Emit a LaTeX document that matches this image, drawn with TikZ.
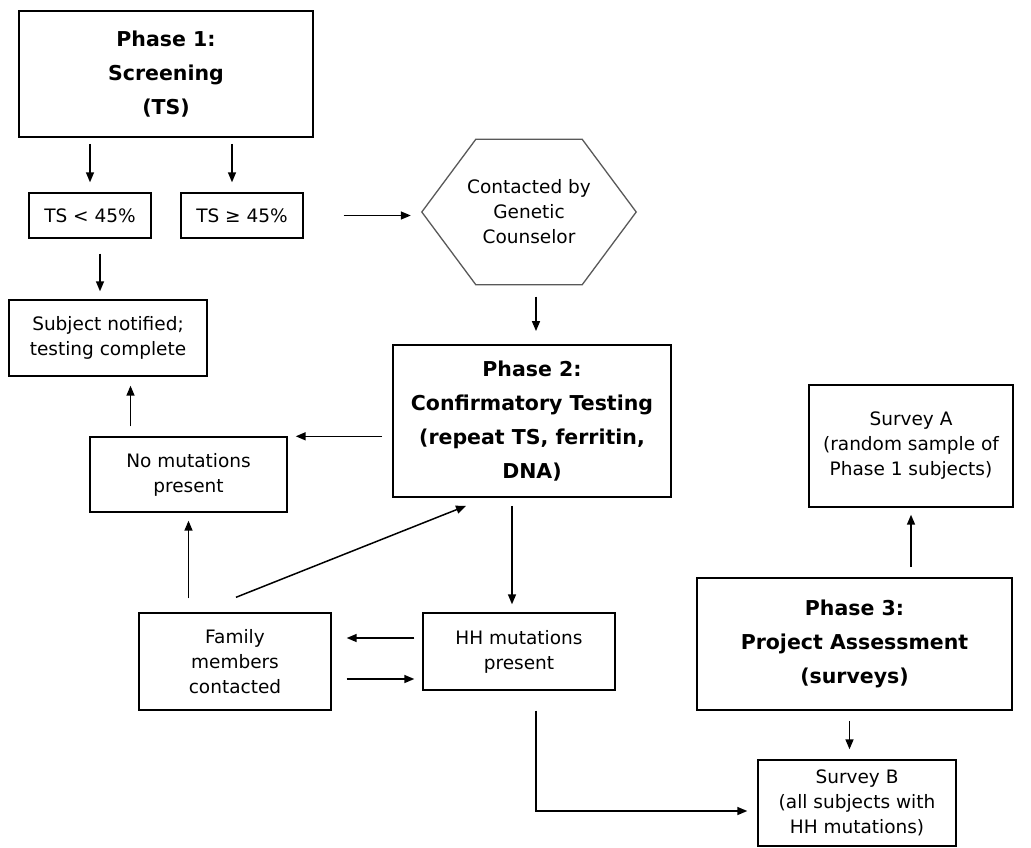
\documentclass[tikz,border=0pt]{standalone}
\usepackage{fontspec}
\setmainfont{DejaVu Sans}
\usetikzlibrary{arrows.meta}

\begin{document}
\begin{tikzpicture}[x=1pt, y=-1pt,
    box/.style={draw, line width=1.4pt, align=center, inner sep=0pt,
      font=\fontsize{18.5}{25}\selectfont},
    headbox/.style={box, line width=1.8pt, font=\fontsize{20.5}{34}\selectfont\bfseries},
    arr/.style={line width=1.5pt, -{Triangle[length=10pt, width=8pt]}}]
  \useasboundingbox[fill=white] (0,0) rectangle (1031,848);

  % Phase 1 and the two screening results
  \node[headbox, minimum width=294pt, minimum height=126pt] (p1) at (166,74) {Phase 1:\\Screening\\(TS)};
  \node[box, minimum width=122pt, minimum height=45pt] (lo) at (90,215.5) {TS < 45\%};
  \node[box, minimum width=122pt, minimum height=45pt] (hi) at (242,215.5) {TS ≥ 45\%};

  % Genetic counselor (hexagon drawn by hand)
  \node[box, draw=none, minimum width=213pt, minimum height=144pt] (gc) at (529,212) {Contacted by\\Genetic\\Counselor};
  \draw[line width=1.3pt, gray!70!black] (gc.west) -- ([xshift=54]gc.north west) -- ([xshift=-54]gc.north east)
    -- (gc.east) -- ([xshift=-54]gc.south east) -- ([xshift=54]gc.south west) -- cycle;

  % Phase 2 and its outcomes
  \node[headbox, minimum width=278pt, minimum height=152pt] (p2) at (532,421) {Phase 2:\\Confirmatory Testing\\(repeat TS, ferritin,\\DNA)};
  \node[box, minimum width=198pt, minimum height=76pt] (sn) at (108,338) {Subject notified;\\testing complete};
  \node[box, minimum width=197pt, minimum height=75pt] (nm) at (188.5,474.5) {No mutations\\present};
  \node[box, minimum width=192pt, minimum height=97pt] (fm) at (235,661.5) {Family\\members\\contacted};
  \node[box, minimum width=192pt, minimum height=77pt] (hh) at (519,651.5) {HH mutations\\present};

  % Phase 3 and the surveys
  \node[headbox, minimum width=315pt, minimum height=132pt] (p3) at (854.5,644) {Phase 3:\\Project Assessment\\(surveys)};
  \node[box, minimum width=204pt, minimum height=122pt] (sa) at (911,446) {Survey A\\(random sample of\\Phase 1 subjects)};
  \node[box, minimum width=198pt, minimum height=86pt] (sb) at (857,803) {Survey B\\(all subjects with\\HH mutations)};

  % Arrows
  \draw[arr, shorten <=6pt, shorten >=10pt] (p1.south -| lo) -- (lo.north);
  \draw[arr, shorten <=6pt, shorten >=10pt] ([xshift=-10]p1.south -| hi) -- ([xshift=-10]hi.north);
  \draw[arr, shorten <=40pt, shorten >=11pt] (hi.east) -- (hi.east -| gc.west);
  \draw[arr, shorten <=12pt, shorten >=13pt] ([xshift=7]gc.south) -- ([xshift=7]gc.south |- p2.north);
  \draw[arr, shorten <=15pt, shorten >=8pt] ([xshift=10]lo.south) -- ([xshift=10]lo.south |- sn.north);
  \draw[arr, shorten <=10pt, shorten >=9pt] ([xshift=-58]nm.north) -- ([xshift=-58]nm.north |- sn.south);
  \draw[arr, shorten <=10pt, shorten >=8pt] (nm.north -| p2.west) -- (nm.north -| nm.east);
  \draw[arr, shorten <=14pt, shorten >=8pt] (nm.south |- fm.north) -- (nm.south);
  \draw[arr] ([xshift=1,yshift=15]fm.north) -- ([xshift=-66,yshift=-8]p2.south);
  \draw[arr, shorten <=8pt, shorten >=8pt] ([xshift=-7]hh.north |- p2.south) -- ([xshift=-7]hh.north);
  \draw[arr, shorten <=8pt, shorten >=15pt] ([yshift=13.5]hh.west) -- ([yshift=13.5]hh.west -| fm.east);
  \draw[arr, shorten <=15pt, shorten >=8pt] ([yshift=-17.5]fm.east) -- ([yshift=-17.5]fm.east -| hh.west);
  \draw[arr, shorten <=20pt, shorten >=10pt] ([xshift=17]hh.south) |- ([yshift=-8]sb.west);
  \draw[arr, shorten <=10pt, shorten >=10pt] ([xshift=-5]p3.south) -- ([xshift=-5]p3.south |- sb.north);
  \draw[arr, shorten <=10pt, shorten >=7pt] (sa.south |- p3.north) -- (sa.south);
\end{tikzpicture}
\end{document}
